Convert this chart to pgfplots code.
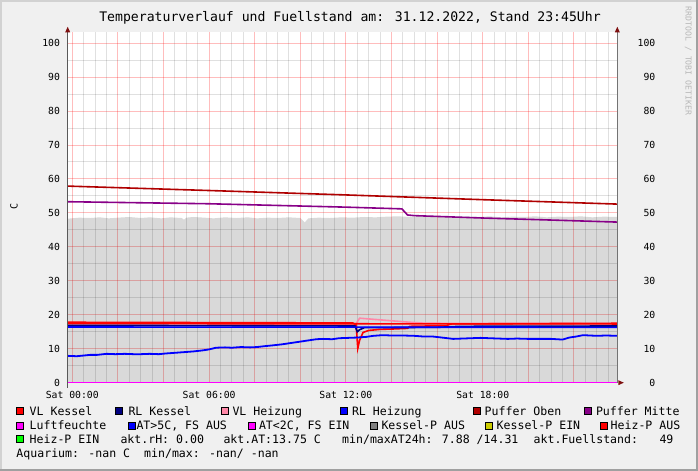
\documentclass[border=0pt]{standalone}
\usepackage{fontspec}
\setmainfont{DejaVu Sans Mono}
\usepackage{pgfplots}
\pgfplotsset{compat=1.18}
\definecolor{bgc}{HTML}{F0F0F0}
\definecolor{shadeA}{HTML}{D2D2D2}
\definecolor{shadeB}{HTML}{A0A0A0}
\definecolor{arrowc}{HTML}{7F1010}
\definecolor{vlk}{HTML}{FF0000}
\definecolor{rlk}{HTML}{000080}
\definecolor{vlh}{HTML}{FF88A8}
\definecolor{rlh}{HTML}{0000FF}
\definecolor{pob}{HTML}{B00000}
\definecolor{pmi}{HTML}{880088}
\definecolor{luf}{HTML}{FF00FF}
\definecolor{kpa}{HTML}{808080}
\definecolor{kpe}{HTML}{CCCC00}
\definecolor{hpe}{HTML}{00FF00}
\newcommand{\lbox}[3]{\filldraw[fill=#3,draw=black,line width=0.7] (#1,#2) rectangle ++(7,7);}
\newcommand{\ltxt}[3]{\node[anchor=base west,inner sep=0pt,font=\fontsize{11.6}{13}\selectfont] at (#1,#2) {#3};}
\begin{document}
\begin{tikzpicture}[x=1bp,y=1bp]
\useasboundingbox (0,0) rectangle (698,471);
\fill[bgc] (0,0) rectangle (698,471);
\fill[shadeA] (0,0) rectangle (2,471);
\fill[shadeA] (0,469) rectangle (698,471);
\fill[shadeB] (696,0) rectangle (698,471);
\fill[shadeB] (0,0) rectangle (698,2);
\fill[white] (67.7,88.3) rectangle (617.3,438.7);
\begin{axis}[
  at={(67.7bp,88.3bp)}, anchor=south west,
  scale only axis, width=549.6bp, height=350.4bp,
  xmin=-0.2, xmax=23.9, ymin=0, ymax=103.2,
  axis line style={draw=none},
  clip=false,
  xtick={0,2,...,22},
  xticklabels={Sat 00:00,,,Sat 06:00,,,Sat 12:00,,,Sat 18:00,,},
  minor xtick={0.5,1,1.5,2.5,3,3.5,4.5,5,5.5,6.5,7,7.5,8.5,9,9.5,10.5,11,11.5,12.5,13,13.5,14.5,15,15.5,16.5,17,17.5,18.5,19,19.5,20.5,21,21.5,22.5,23,23.5},
  ytick={0,10,...,100},
  minor ytick={5,15,...,95},
  grid=both,
  major grid style={draw=red, opacity=0.26, line width=1bp},
  minor grid style={draw=black, opacity=0.12, line width=1bp},
  major tick length=0pt, minor tick length=0pt,
  /pgf/number format/assume math mode=true,
  tick label style={font=\fontsize{9.8}{11}\selectfont, text=black, inner sep=0pt},
  yticklabel style={anchor=east, xshift=-7.5bp},
  xticklabel style={anchor=north, yshift=-8.7bp},
]
% Fuellstand area
\addplot[draw=none, fill=black, fill opacity=0.15] coordinates {
(-0.2,48.3)(0.3,48.6)(0.8,48.5)(1.2,48.7)(1.6,48.4)(2.0,48.6)(2.5,48.8)(3.0,48.5)(3.4,48.7)(3.9,48.4)
(4.3,48.7)(4.8,48.5)(4.9,48.0)(5.0,48.6)(5.3,48.8)(5.8,48.6)(6.2,48.4)(6.7,48.7)(7.2,48.5)(7.7,48.7)(8.1,48.4)
(8.6,48.6)(9.0,48.5)(9.5,48.7)(10.0,48.5)(10.2,47.2)(10.35,48.4)(10.8,48.6)(11.3,48.5)(11.8,48.7)
(12.3,48.6)(12.8,48.8)(13.3,48.7)(13.8,48.9)(14.3,49.0)(14.8,48.8)(15.3,49.0)(15.8,48.8)(16.3,48.9)
(16.8,48.7)(17.3,48.9)(17.8,48.8)(18.3,49.0)(18.8,48.7)(19.3,48.9)(19.8,48.8)(20.3,49.0)(20.8,48.7)
(21.3,48.9)(21.8,48.8)(22.3,49.0)(22.8,48.7)(23.3,48.9)(23.9,48.8)} \closedcycle;
% VL Heizung
\addplot[vlh, line width=1.6bp] coordinates {(-0.2,17.4)(12.45,17.4)(12.6,19.0)(14.8,17.8)(15.5,17.5)(23.9,17.4)};
% continuous red
\addplot[vlk, line width=1.6bp] coordinates {(-0.2,17.4)(23.9,17.3)};
% VL Kessel
\addplot[vlk, line width=1.6bp] coordinates {(-0.2,17.8)(6,17.7)(12.3,17.6)(12.45,17.0)(12.52,10.1)(12.6,12.5)(12.75,14.8)(13.0,15.4)(13.5,15.7)(14.0,15.8)(14.7,16.0)(14.8,16.6)(16.4,16.8)(16.6,17.3)(23.9,17.5)};
% RL Kessel
\addplot[rlk, line width=1.6bp] coordinates {(-0.2,16.9)(12.4,16.7)(12.5,15.0)(12.6,15.6)(12.8,16.2)(16,16.3)(17,16.6)(23.9,16.7)};
% RL Heizung
\addplot[rlh, line width=1.6bp] coordinates {(-0.2,16.4)(23.9,16.3)};
% Puffer Oben
\addplot[pob, line width=1.6bp] coordinates {(-0.2,57.9)(6,56.6)(12,55.3)(18,53.9)(23.9,52.6)};
% Puffer Mitte
\addplot[pmi, line width=1.6bp] coordinates {(-0.2,53.3)(6,52.7)(12,51.7)(14.45,51.2)(14.55,50.5)(14.7,49.4)(15.0,49.2)(18,48.5)(21,47.9)(23.9,47.3)};
% Luftfeuchte
\addplot[luf, line width=1.6bp] coordinates {(-0.2,0)(23.9,0)};
% Aussentemperatur
\addplot[rlh, line width=1.8bp] coordinates {
(-0.2,7.9)(0.2,7.8)(0.5,8.0)(0.8,8.2)(1.1,8.2)(1.5,8.5)(1.9,8.4)(2.3,8.5)(2.7,8.4)(3.0,8.4)
(3.4,8.5)(3.8,8.4)(4.1,8.6)(4.5,8.8)(4.9,9.0)(5.3,9.2)(5.7,9.5)(6.0,9.8)(6.3,10.3)(6.7,10.4)
(7.0,10.3)(7.4,10.5)(7.8,10.4)(8.1,10.5)(8.5,10.8)(8.8,11.0)(9.2,11.3)(9.6,11.7)(10.0,12.1)(10.3,12.4)
(10.7,12.8)(11.0,12.9)(11.4,12.8)(11.7,13.1)(12.1,13.2)(12.5,13.3)(12.9,13.5)(13.2,13.8)(13.6,14.0)(14.0,13.9)
(14.5,13.9)(15.0,13.8)(15.4,13.6)(15.8,13.6)(16.2,13.3)(16.7,12.9)(17.1,13.0)(17.5,13.1)(17.9,13.2)(18.3,13.1)
(18.7,13.0)(19.1,12.9)(19.5,13.0)(20.0,12.9)(20.5,12.9)(21.0,12.9)(21.5,12.7)(21.8,13.3)(22.1,13.6)(22.4,14.0)
(22.7,13.9)(23.0,13.8)(23.4,13.9)(23.9,13.8)};
% axis lines
\draw[black!65, line width=1bp] ([yshift=-5bp]rel axis cs:0,0) -- (rel axis cs:0,1);
\draw[black!55, line width=1bp] (rel axis cs:1,0) -- (rel axis cs:1,1);
\fill[arrowc] ([xshift=-2.5bp]rel axis cs:0,1) -- ([xshift=2.5bp]rel axis cs:0,1) -- ([yshift=5.5bp]rel axis cs:0,1) -- cycle;
\fill[arrowc] ([xshift=-2.5bp]rel axis cs:1,1) -- ([xshift=2.5bp]rel axis cs:1,1) -- ([yshift=5.5bp]rel axis cs:1,1) -- cycle;
\fill[arrowc] ([xshift=1bp,yshift=-2.5bp]rel axis cs:1,0) -- ([xshift=1bp,yshift=2.5bp]rel axis cs:1,0) -- ([xshift=6.5bp]rel axis cs:1,0) -- cycle;
\end{axis}
\begin{axis}[
  at={(67.7bp,88.3bp)}, anchor=south west,
  scale only axis, width=549.6bp, height=350.4bp,
  xmin=-0.2, xmax=23.9, ymin=0, ymax=103.2,
  axis line style={draw=none},
  xtick=\empty,
  ytick={0,10,...,100},
  yticklabel pos=right,
  major tick length=0pt,
  /pgf/number format/assume math mode=true,
  tick label style={font=\fontsize{9.8}{11}\selectfont, text=black, inner sep=0pt},
  yticklabel style={anchor=east, xshift=38.2bp},
]
\end{axis}
% title
\node[anchor=base,inner sep=0pt,font=\fontsize{13.2}{15}\selectfont] at (350,449.2) {Temperaturverlauf und Fuellstand am: 31.12.2022, Stand 23:45Uhr};
% y label
\node[rotate=90,inner sep=0pt,font=\fontsize{10}{12}\selectfont] at (14,264) {C};
% rrdtool
\node[rotate=-90,inner sep=0pt,text=black!28,font=\fontsize{8.2}{10}\selectfont] at (688.3,410) {RRDTOOL / TOBI OETIKER};
% legend row 1
\lbox{16}{56.5}{vlk}\ltxt{29.5}{55.8}{VL Kessel}
\lbox{115}{56.5}{rlk}\ltxt{128.3}{55.8}{RL Kessel}
\lbox{221}{56.5}{vlh}\ltxt{232.3}{55.8}{VL Heizung}
\lbox{340}{56.5}{rlh}\ltxt{351.8}{55.8}{RL Heizung}
\lbox{473}{56.5}{pob}\ltxt{484.5}{55.8}{Puffer Oben}
\lbox{584.5}{56.5}{pmi}\ltxt{595.8}{55.8}{Puffer Mitte}
% row 2
\lbox{16}{41.8}{luf}\ltxt{29.5}{41.1}{Luftfeuchte}
\lbox{128}{41.8}{rlh}\ltxt{136.3}{41.1}{AT>5C, FS AUS}
\lbox{248.5}{41.8}{luf}\ltxt{258.8}{41.1}{AT<2C, FS EIN}
\lbox{370.5}{41.8}{kpa}\ltxt{381.3}{41.1}{Kessel-P AUS}
\lbox{485}{41.8}{kpe}\ltxt{496.5}{41.1}{Kessel-P EIN}
\lbox{600.5}{41.8}{vlk}\ltxt{610.5}{41.1}{Heiz-P AUS}
% row 3
\lbox{16}{28.2}{hpe}\ltxt{29.5}{27.5}{Heiz-P EIN}
\ltxt{120.3}{27.5}{akt.rH: 0.00}
\ltxt{223.3}{27.5}{akt.AT:13.75 C}
\ltxt{342}{27.5}{min/maxAT24h: 7.88 /14.31}
\ltxt{533.5}{27.5}{akt.Fuellstand:}
\ltxt{659.3}{27.5}{49}
% row 4
\ltxt{16.3}{13.1}{Aquarium: -nan C}
\ltxt{144}{13.1}{min/max: -nan/ -nan}
\end{tikzpicture}
\end{document}
